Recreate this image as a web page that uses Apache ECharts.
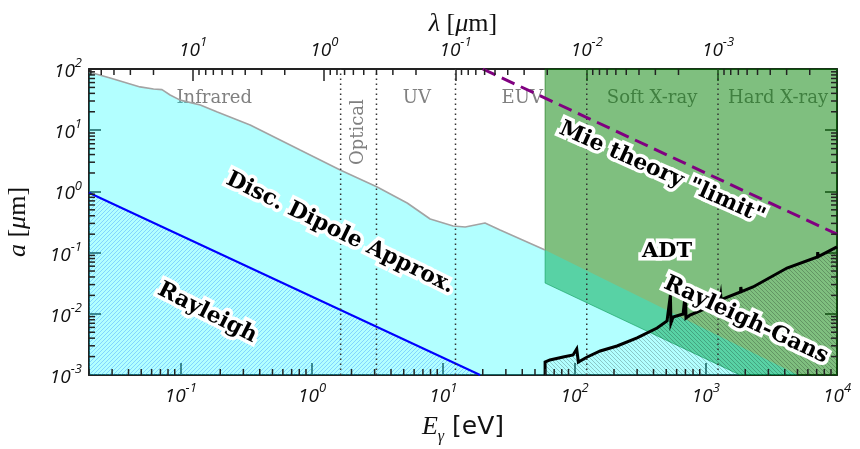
<!DOCTYPE html>
<html><head><meta charset="utf-8">
<script src="https://cdn.jsdelivr.net/npm/echarts@6/dist/echarts.min.js"></script>
<style>html,body{margin:0;padding:0;background:#fff}#c{width:860px;height:449px}</style>
</head><body><div id="c"></div>
<script>
// ---------- data ----------
const HC = 1.2398;               // eV * um  (lambda = HC / E)
const E_MIN = 0.02, E_MAX = 1e4; // photon energy range [eV]
const A_MIN = 1e-3, A_MAX = 1e2; // grain radius range [um]

// upper edge of the discrete-dipole-approximation region (gray curve)
const ddaUpper = [[0.02,89],[0.029,71],[0.049,51],[0.062,47],[0.072,46],[0.083,37.6],[0.099,31],
  [0.141,25.8],[0.19,19.8],[0.338,12.2],[0.812,4.74],[1.64,2.24],[3.14,1.18],[5.31,0.646],
  [7.95,0.354],[11.9,0.272],[14.7,0.262],[20.8,0.305],[27.1,0.234],[59.7,0.11]];
const ddaExtension = [[59.7,0.11],[5050,0.001]];
// Rayleigh limit (blue line)
const rayleighEdge = [[0.02,0.95],[19.1,0.001]];
// ADT region (green polygon)
const adtRegion = [[59.7,100],[1e4,100],[1e4,0.001],[1824,0.001],[59.7,0.0318]];
// Rayleigh-Gans limit (black curve)
const rgLimit = [[59.7,0.001],[59.7,0.00163],[65,0.00176],[82,0.00197],[97.5,0.00212],[104,0.00266],
  [107,0.00163],[125,0.00197],[157,0.00247],[211,0.00298],[300,0.00403],[426,0.00586],[507,0.00762],
  [538,0.0203],[543,0.00708],[564,0.00887],[672,0.00993],[701,0.0227],[707,0.00853],[759,0.00955],
  [1023,0.01245],[1280,0.0168],[1300,0.0203],[1310,0.017],[1840,0.0227],[1850,0.0274],[1870,0.023],
  [2291,0.0274],[4159,0.056],[7100,0.0847],[7130,0.102],[7200,0.086],[10000,0.124]];
// Mie theory "limit" (purple dashed)
const mieLimit = [[20,100],[1e4,0.2]];
// band edges in wavelength [um]
const bandEdgesLambda = [0.75,0.4,0.1,0.01,0.001];
const bandNames = ['Infrared','Optical','UV','EUV','Soft X-ray','Hard X-ray'];
const minorMultipliers = [2,3,4,5,6,7,8,9];
const decades = [-4,-3,-2,-1,0,1,2,3,4];

// ---------- layout / annotation placement (data coords) ----------
const bandLabelPos = [[0.18,33],[2.25,9.3],[6.3,33],[40,33],[390,33],[3556,33]];
const bandLabelRot = [0,90,0,0,0,0];
const regionLabels = [
  {text:'Disc. Dipole Approx.', at:[1.64,0.209], rot:-26, size:22},
  {text:'Rayleigh', at:[0.159,0.0103], rot:-27, size:22},
  {text:'Mie theory "limit"', at:[464,2.0], rot:-24, size:22},
  {text:'ADT', at:[507,0.106], rot:0, size:21},
  {text:'Rayleigh-Gans', at:[2028,0.0079], rot:-25, size:22}
];

// ---------- helpers ----------
function minorTicks(lo, hi){
  const out=[];
  decades.forEach(d=>minorMultipliers.forEach(m=>{const v=m*Math.pow(10,d); if(v>=lo*0.9999&&v<=hi*1.0001) out.push(v);}));
  return out;
}
function hatch(dir, color, size, lw){
  const c=document.createElement('canvas'); c.width=c.height=size;
  const g=c.getContext('2d'); g.strokeStyle=color; g.lineWidth=lw; g.beginPath();
  if(dir==='/'){ g.moveTo(0,size); g.lineTo(size,0); g.moveTo(-1,1); g.lineTo(1,-1); g.moveTo(size-1,size+1); g.lineTo(size+1,size-1); }
  else { g.moveTo(0,0); g.lineTo(size,size); g.moveTo(-1,size-1); g.lineTo(1,size+1); g.moveTo(size-1,-1); g.lineTo(size+1,1); }
  g.stroke();
  return {image:c, repeat:'repeat'};
}
function powLabel(v){
  const e=Math.log10(v), r=Math.round(e);
  if(Math.abs(e-r)>1e-6) return '';
  return '{b|10}{s|'+r+'}';
}
const AX='#222';
const tickRich = {
  b:{fontSize:19,fontStyle:'italic',fontFamily:'Open Sans',color:'#111',verticalAlign:'bottom',lineHeight:24},
  s:{fontSize:13,fontStyle:'italic',fontFamily:'Open Sans',color:'#111',verticalAlign:'top',lineHeight:24}
};
const nameRich = {
  i:{fontSize:26,fontStyle:'italic',fontFamily:'Liberation Serif',color:'#111'},
  t:{fontSize:26,fontFamily:'Liberation Serif',color:'#111'},
  ts:{fontSize:25,fontFamily:'DejaVu Sans',color:'#111'},
  sub:{fontSize:16,fontStyle:'italic',fontFamily:'Liberation Serif',color:'#111',verticalAlign:'bottom',lineHeight:36}
};
function baseAxis(extra){
  return Object.assign({
    type:'log', logBase:10,
    axisLine:{show:true,onZero:false,lineStyle:{color:AX,width:2}},
    axisTick:{show:true,inside:true,length:12,lineStyle:{color:AX,width:1.5}},
    minorTick:{show:false}, splitLine:{show:false},
    axisLabel:{show:true,formatter:powLabel,rich:tickRich,margin:7,showMinLabel:true,showMaxLabel:true},
    nameMoveOverlap:false
  }, extra);
}

const bandEdgesE = bandEdgesLambda.map(l=>HC/l);
function tickSeries(values, xIdx, fixed, isX, dir){
  return {
    type:'custom', xAxisIndex:xIdx, yAxisIndex:0, z:20, silent:true,
    data: values.map(v=> isX ? [v, fixed] : [fixed, v]),
    renderItem:(p,api)=>{
      const pt=api.coord([api.value(0),api.value(1)]);
      const L=6;
      const shape = isX ? {x1:pt[0],y1:pt[1],x2:pt[0],y2:pt[1]+dir*L} : {x1:pt[0],y1:pt[1],x2:pt[0]+dir*L,y2:pt[1]};
      return {type:'line',shape,style:{stroke:AX,lineWidth:1.5}};
    }
  };
}
// text drawn through the coordinate system (custom series); rot in degrees, positive = counter-clockwise
function textSeries(items, z, styleFn){
  return {type:'custom', z, silent:true,
    data: items.map((it,i)=>[it.at[0], it.at[1], i]),
    renderItem:(p,api)=>{
      const it=items[api.value(2)];
      const pt=api.coord([api.value(0),api.value(1)]);
      const rot=it.rot*Math.PI/180;
      const kids=styleFn(it).map(st=>({type:'text',x:pt[0],y:pt[1],rotation:rot,
        style:Object.assign({text:it.text,align:'center',verticalAlign:'middle'},st)}));
      return {type:'group',children:kids};
    }};
}
const bandItems = bandNames.map((n,i)=>({text:n, at:bandLabelPos[i], rot:bandLabelRot[i]}));

const chart = echarts.init(document.getElementById('c'), null, {renderer:'canvas'});
chart.setOption({
  animation:false,
  backgroundColor:'#fff',
  grid:{left:89,right:23,top:69,bottom:74,containLabel:false,outerBoundsMode:'none'},
  xAxis:[
    baseAxis({min:E_MIN,max:E_MAX,position:'bottom',
      name:'{i|E}{sub|γ}{ts| [eV]}',nameLocation:'middle',nameGap:34,nameTextStyle:{rich:nameRich}}),
    baseAxis({min:HC/E_MAX,max:HC/E_MIN,inverse:true,position:'top',
      axisLabel:{show:true,formatter:powLabel,rich:tickRich,margin:9},
      name:'{i|λ}{t| [}{i|μ}{t|m]}',nameLocation:'middle',nameGap:32,nameTextStyle:{rich:nameRich}})
  ],
  yAxis:[
    baseAxis({min:A_MIN,max:A_MAX,position:'left',
      name:'{i|a}{t| [}{i|μ}{t|m]}',nameLocation:'middle',nameGap:58,nameTextStyle:{rich:nameRich}}),
    baseAxis({min:A_MIN,max:A_MAX,position:'right',axisLabel:{show:false}})
  ],
  series:[
    // band labels (drawn beneath the ADT shading)
    textSeries(bandItems, 1, ()=>[{fill:'#808080',font:'18px "DejaVu Serif"'}]),
    // ADT region
    {type:'custom', z:2, silent:true, data:[adtRegion[0]],
      renderItem:(p,api)=>({type:'polygon',shape:{points:adtRegion.map(q=>api.coord(q))},
        style:{fill:'rgba(0,128,0,0.5)',stroke:'rgba(0,100,0,0.55)',lineWidth:1}})},
    // DDA region (cyan)
    {type:'line', z:3, silent:true, symbol:'none', data: ddaUpper.concat(ddaExtension.slice(1)),
      lineStyle:{opacity:0,width:0}, areaStyle:{color:'rgba(0,255,255,0.3)',origin:'start',opacity:1}},
    {type:'line', z:4, silent:true, symbol:'none', data: ddaUpper,
      lineStyle:{color:'#a3a3a3',width:1.6}},
    // Rayleigh region
    {type:'line', z:5, silent:true, symbol:'none', data: rayleighEdge,
      lineStyle:{color:'#0000ff',width:2},
      areaStyle:{color:hatch('/','rgba(30,120,255,0.32)',4,1),origin:'start',opacity:1}},
    // Rayleigh-Gans region
    {type:'line', z:6, silent:true, symbol:'none', data: rgLimit,
      lineStyle:{color:'#000',width:3,join:'miter'},
      areaStyle:{color:hatch('\\','rgba(0,0,0,0.22)',4,1),origin:'start',opacity:1}},
    // band edges (dotted)
    {type:'custom', z:7, silent:true, data: bandEdgesE.map(e=>[e,A_MIN]),
      renderItem:(p,api)=>{const a=api.coord([api.value(0),A_MIN]), b=api.coord([api.value(0),A_MAX]);
        return {type:'line',shape:{x1:a[0],y1:a[1],x2:b[0],y2:b[1]},style:{stroke:'#333',lineWidth:1.5,lineDash:[1.5,3.5]}};}},
    // Mie limit
    {type:'line', z:8, silent:true, symbol:'none', data: mieLimit,
      lineStyle:{color:'#800080',width:3,type:[14,7]}},
    // region annotations: white halo, then black text
    textSeries(regionLabels, 10, it=>[
      {fill:'#fff',stroke:'#fff',lineWidth:7,lineJoin:'round',font:'bold '+it.size+'px "DejaVu Serif"'},
      {fill:'#000',font:'bold '+it.size+'px "DejaVu Serif"'}
    ]),
    // minor ticks on all four sides
    tickSeries(minorTicks(E_MIN,E_MAX),0,A_MIN,true,-1),
    tickSeries(minorTicks(HC/E_MAX,HC/E_MIN),1,A_MAX,true,1),
    tickSeries(minorTicks(A_MIN,A_MAX),0,E_MIN,false,1),
    tickSeries(minorTicks(A_MIN,A_MAX),0,E_MAX,false,-1)
  ]
});
</script></body></html>
